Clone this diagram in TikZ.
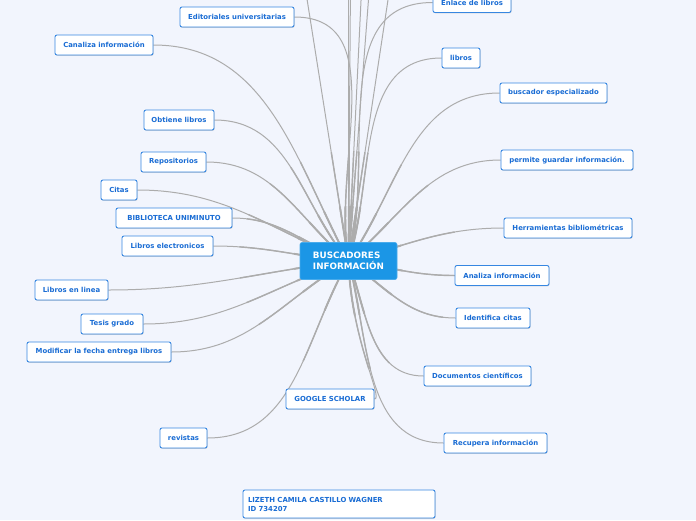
\documentclass[tikz,border=0pt]{standalone}
\usepackage{fontspec}
\setmainfont{DejaVu Sans}
\usetikzlibrary{backgrounds,shadows}
\definecolor{bgc}{RGB}{242,245,253}
\definecolor{txtc}{RGB}{25,108,212}
\definecolor{bordc}{RGB}{55,135,225}
\definecolor{centc}{RGB}{27,150,230}
\definecolor{linec}{RGB}{172,172,172}
\tikzset{
  x=1pt,y=1pt,
  leaf/.style={draw=bordc, line width=0.9pt, fill=white, rounded corners=2pt,
    minimum height=20pt, inner sep=0pt, text=txtc,
    font=\fontsize{6.9}{8.5}\selectfont\bfseries,
    drop shadow={shadow xshift=0.6pt, shadow yshift=-0.8pt, opacity=0.25, fill=black!60}},
  hub/.style={draw=centc!80!white, line width=0.6pt, fill=centc, rounded corners=2pt,
    minimum width=97pt, minimum height=37pt, inner sep=0pt, text=white,
    align=left, font=\fontsize{8.8}{11}\selectfont\bfseries},
  conn/.style={draw=linec, line width=1pt},
}
\newcommand{\allconns}{%
\foreach \o in {o1,o2,o3,o4,o5,o6} \draw[conn] (c.center) -- (\o);
\draw[conn] (c.center) to[out=100,in=0] (ed.east);
\draw[conn] (c.center) to[out=75,in=180] (en.west);
\draw[conn] (c.center) to[out=118,in=0] (ca.east);
\draw[conn] (c.center) to[out=72,in=180] (li.west);
\draw[conn] (c.center) to[out=55,in=180] (bu.west);
\draw[conn] (c.center) to[out=130,in=0] (ob.east);
\draw[conn] (c.center) to[out=140,in=0] (re.east);
\draw[conn] (c.center) to[out=40,in=180] (pe.west);
\draw[conn] (c.center) to[out=158,in=0] (ci.east);
\draw[conn] (c.center) to[out=160,in=0] (bi.east);
\draw[conn] (c.center) to[out=15,in=180] (he.west);
\draw[conn] (c.center) to[out=175,in=0] (le.east);
\draw[conn] (c.center) to[out=352,in=180] (an.west);
\draw[conn] (c.center) to[out=187,in=0] (ll.east);
\draw[conn] (c.center) to[out=325,in=180] (id.west);
\draw[conn] (c.center) to[out=198,in=0] (te.east);
\draw[conn] (c.center) to[out=210,in=0] (mo.east);
\draw[conn] (c.center) to[out=290,in=180] (do.west);
\draw[conn] (c.center) .. controls (351,-340) and (384,-399) .. (gs.east);
\draw[conn] (c.center) to[out=240,in=0] (rv.east);
\draw[conn] (c.center) to[out=285,in=180] (rc.west);
}
\begin{document}
\begin{tikzpicture}
\useasboundingbox (0,0) rectangle (696,-520);
\clip (0,0) rectangle (696,-520);
% nodes
\node[hub] (c) at (348.5,-261) {BUSCADORES\\INFORMACIÓN};
\node[leaf, minimum width=114pt] (ed) at (237,-17) {Editoriales universitarias};
\node[leaf, minimum width=78pt] (en) at (472,-2.5) {Enlace de libros};
\node[leaf, minimum width=98pt] (ca) at (104,-45) {Canaliza información};
\node[leaf, minimum width=38pt] (li) at (461,-58) {libros};
\node[leaf, minimum width=107pt] (bu) at (553.5,-93) {buscador especializado};
\node[leaf, minimum width=70pt] (ob) at (179,-120) {Obtiene libros};
\node[leaf, minimum width=65pt] (re) at (173.5,-162) {Repositorios};
\node[leaf, minimum width=132pt] (pe) at (567,-160) {permite guardar información.};
\node[leaf, minimum width=36pt] (ci) at (119,-190) {Citas};
\node[leaf, minimum width=116pt] (bi) at (174,-218) {BIBLIOTECA UNIMINUTO};
\node[leaf, minimum width=128pt] (he) at (568,-228) {Herramientas bibliométricas};
\node[leaf, minimum width=91pt] (le) at (167.5,-246) {Libros electronicos};
\node[leaf, minimum width=94pt] (an) at (502,-275.5) {Analiza información};
\node[leaf, minimum width=73pt] (ll) at (71.5,-290) {Libros en linea};
\node[leaf, minimum width=74pt] (id) at (493,-318) {Identifica citas};
\node[leaf, minimum width=62pt] (te) at (112,-324) {Tesis grado};
\node[leaf, minimum width=144pt] (mo) at (99,-352) {Modificar la fecha entrega libros};
\node[leaf, minimum width=107pt] (do) at (477.5,-376) {Documentos científicos};
\node[leaf, minimum width=88pt] (gs) at (330,-399) {GOOGLE SCHOLAR};
\node[leaf, minimum width=47pt] (rv) at (183.5,-438) {revistas};
\node[leaf, minimum width=103pt] (rc) at (495.5,-443) {Recupera información};
\node[leaf, minimum width=192pt, minimum height=28pt, align=left, text width=182pt,
  font=\fontsize{6.9}{9}\selectfont\bfseries] (lz) at (339,-504)
  {LIZETH CAMILA CASTILLO WAGNER\\ID 734207};
% free ends of connectors to nodes above the picture
\coordinate (o1) at (304,20);
\coordinate (o2) at (348.5,20);
\coordinate (o3) at (350.5,20);
\coordinate (o4) at (362,20);
\coordinate (o5) at (370,20);
\coordinate (o6) at (391,20);
\begin{scope}[on background layer]
\fill[bgc] (0,0) rectangle (696,-520);
\allconns
\begin{scope}
\clip (c.center) circle (110);
\tikzset{conn/.append style={line width=1.4pt}}
\allconns
\end{scope}
\begin{scope}
\clip (c.center) circle (55);
\tikzset{conn/.append style={line width=1.9pt}}
\allconns
\end{scope}
\end{scope}
\end{tikzpicture}
\end{document}
